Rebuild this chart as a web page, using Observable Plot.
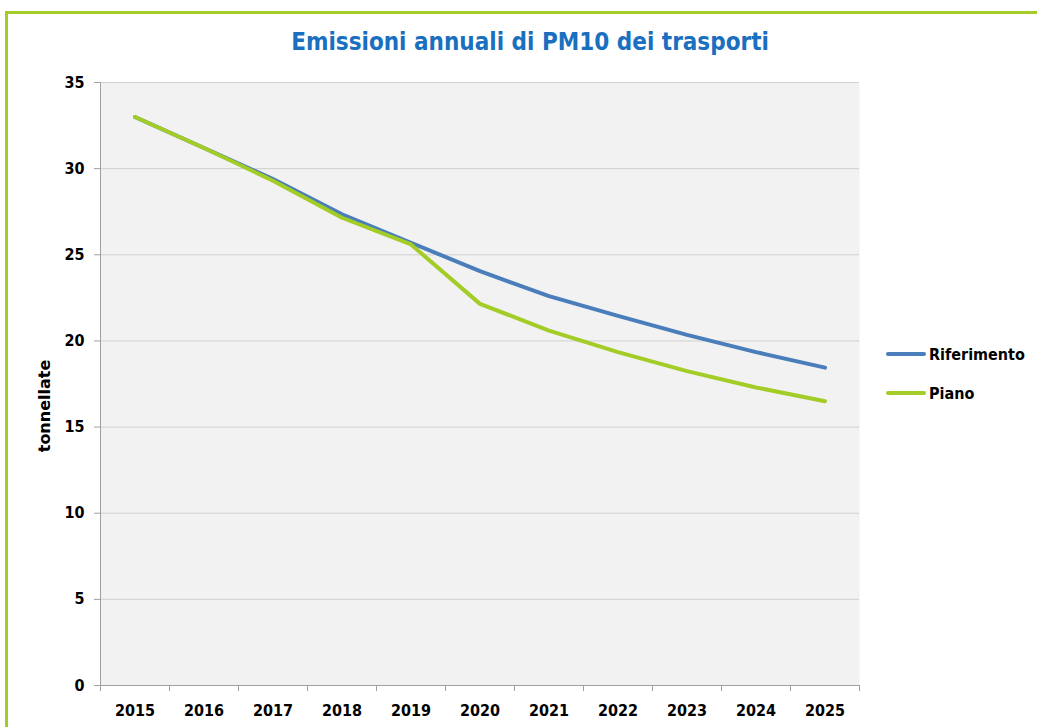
<!DOCTYPE html>
<html>
<head>
<meta charset="utf-8">
<script src="https://cdn.jsdelivr.net/npm/d3@7"></script>
<script src="https://cdn.jsdelivr.net/npm/@observablehq/plot@0.6"></script>
<style>
  html, body { margin: 0; padding: 0; background: #fff; }
  #wrap { position: relative; width: 1037px; height: 727px; overflow: hidden; font-family: "DejaVu Sans Condensed", "DejaVu Sans", sans-serif; }
  #border { position: absolute; left: 5px; top: 11px; width: 1100px; height: 800px; border-top: 3px solid #a3cc27; border-left: 3px solid #a3cc27; box-sizing: border-box; }
  #title { position: absolute; left: 530px; top: 28px; transform: translateX(-50%); white-space: nowrap; color: #1a6fbf; font-weight: bold; font-size: 24px; font-family: "DejaVu Sans Condensed", "DejaVu Sans", sans-serif; }
  #chart { position: absolute; left: 0; top: 0; }
  .leg { position: absolute; display: flex; align-items: center; font-weight: bold; font-size: 16px; color: #000; }
  .leg span.sw { display: inline-block; width: 40px; height: 4px; margin-right: 3px; border-radius: 2px; }
</style>
</head>
<body>
<div id="wrap">
  <div id="border"></div>
  <div id="chart"></div>
  <div id="title">Emissioni annuali di PM10 dei trasporti</div>
  <div id="legend"></div>
</div>
<script>
const years = [2015, 2016, 2017, 2018, 2019, 2020, 2021, 2022, 2023, 2024, 2025];
const riferimento = [33.0, 31.2, 29.4, 27.35, 25.7, 24.05, 22.6, 21.45, 20.35, 19.35, 18.45];
const piano = [33.0, 31.2, 29.3, 27.15, 25.6, 22.15, 20.6, 19.35, 18.25, 17.3, 16.5];
const seriesNames = ["Riferimento", "Piano"];
const seriesColors = ["#4a7ebb", "#a3cc27"];
const yTicks = [0, 5, 10, 15, 20, 25, 30, 35];
const yLabel = "tonnellate";

const data = [
  ...years.map((year, i) => ({year, value: riferimento[i], series: seriesNames[0]})),
  ...years.map((year, i) => ({year, value: piano[i], series: seriesNames[1]}))
];
const boundaries = years.map(y => y - 0.5).concat([years[years.length - 1] + 0.5]);

const chart = Plot.plot({
  width: 1037,
  height: 727,
  marginLeft: 100,
  marginRight: 178,
  marginTop: 82,
  marginBottom: 42,
  style: {fontFamily: "DejaVu Sans Condensed, DejaVu Sans, sans-serif", background: "transparent"},
  x: {domain: [boundaries[0], boundaries[boundaries.length - 1]]},
  y: {domain: [0, 35]},
  color: {domain: seriesNames, range: seriesColors},
  marks: [
    Plot.frame({fill: "#f2f2f2", stroke: null}),
    Plot.gridY(yTicks, {stroke: "#d0d0d0", strokeOpacity: 1, strokeWidth: 1}),
    Plot.ruleX([boundaries[0]], {stroke: "#a0a0a0"}),
    Plot.ruleY([0], {stroke: "#a0a0a0"}),
    Plot.axisY(yTicks, {tickSize: 6, tickPadding: 10, stroke: "#a0a0a0", fill: "#000", fontSize: 16, fontWeight: "bold", label: null}),
    Plot.axisX(boundaries, {tickSize: 6, stroke: "#a0a0a0", tickFormat: () => "", label: null}),
    Plot.axisX(years, {tickSize: 0, tickPadding: 19, fill: "#000", fontSize: 16, fontWeight: "bold", tickFormat: d => String(d), label: null}),
    Plot.text([yLabel], {frameAnchor: "left", textAnchor: "middle", dx: -56, dy: 22, rotate: -90, fontWeight: "bold", fontSize: 16, fontFamily: "DejaVu Sans, sans-serif", fill: "#000"}),
    Plot.line(data, {x: "year", y: "value", stroke: "series", z: "series", strokeWidth: 4, strokeLinejoin: "round", strokeLinecap: "round"})
  ]
});
document.getElementById("chart").appendChild(chart);

const legend = document.getElementById("legend");
seriesNames.forEach((name, i) => {
  const d = document.createElement("div");
  d.className = "leg";
  d.style.left = "886px";
  d.style.top = (344 + i * 39) + "px";
  d.style.height = "20px";
  d.innerHTML = `<span class="sw" style="background:${seriesColors[i]}"></span>${name}`;
  legend.appendChild(d);
});
</script>
</body>
</html>
